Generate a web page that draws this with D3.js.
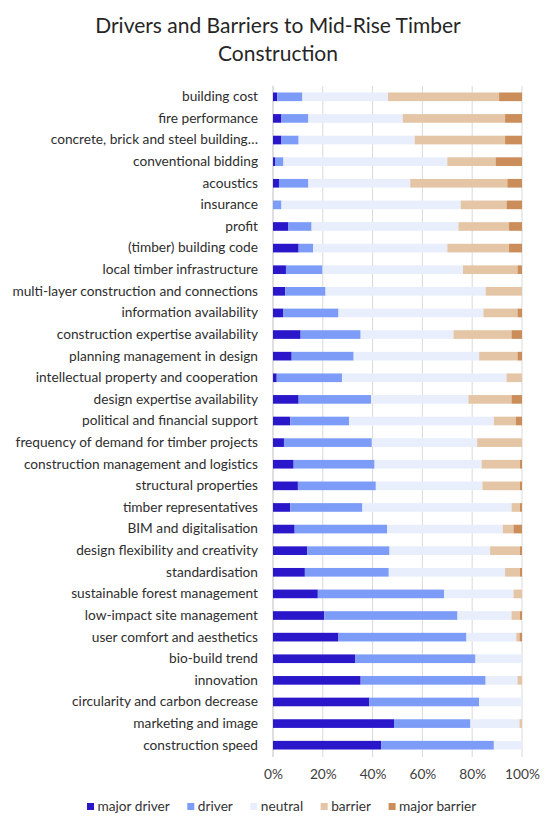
<!DOCTYPE html>
<html><head><meta charset="utf-8">
<script src="https://cdn.jsdelivr.net/npm/d3@7"></script>
<style>body{margin:0;background:#fff;} svg{display:block;font-family:Lato, "Noto Sans", sans-serif;}</style>
</head><body><div id="chart"></div>
<script>
const categories = ["building cost","fire performance","concrete, brick and steel building…","conventional bidding","acoustics","insurance","profit","(timber) building code","local timber infrastructure","multi-layer construction and connections","information availability","construction expertise availability","planning management in design","intellectual property and cooperation","design expertise availability","political and financial support","frequency of demand for timber projects","construction management and logistics","structural properties","timber representatives","BIM and digitalisation","design flexibility and creativity","standardisation","sustainable forest management","low-impact site management","user comfort and aesthetics","bio-build trend","innovation","circularity and carbon decrease","marketing and image","construction speed"];
const majorDriver = [1.7,3.4,3.4,0.8,2.4,0,6.2,10.3,5.2,4.9,4.2,11.1,7.5,1.5,10.3,6.9,4.4,8.3,10.0,6.9,8.7,13.7,12.8,18.0,20.6,26.3,33.1,35.2,38.7,48.6,43.4];
const driver = [10.1,10.8,6.9,3.4,11.8,3.4,9.3,5.8,14.7,16.2,22.1,24.1,24.9,26.2,29.1,23.7,35.3,32.5,31.3,29.0,37.1,33.1,33.7,50.7,53.5,51.4,48.2,50.2,44.1,30.7,45.3];
const neutral = [34.4,37.9,46.6,65.8,40.9,72.0,59.0,53.9,56.4,64.3,58.2,37.3,50.4,66.1,39.1,58.1,42.3,43.0,42.8,59.9,46.5,40.4,46.7,27.9,21.7,20.0,18.7,12.8,17.2,19.7,11.3];
const barrier = [44.6,41.1,36.3,19.4,39.0,18.4,20.3,24.8,21.9,14.6,13.7,23.3,15.4,6.2,17.3,8.8,18.0,15.4,15.1,3.4,4.3,12.0,6.0,3.4,3.4,1.3,0,1.8,0,1.0,0];
const majorBarrier = [9.2,6.8,6.8,10.6,5.9,6.2,5.2,5.2,1.8,0,1.8,4.2,1.8,0,4.2,2.5,0,0.8,0.8,0.8,3.4,0.8,0.8,0,0.8,1.0,0,0,0,0,0];
const seriesNames = ["major driver","driver","neutral","barrier","major barrier"];
const seriesColors = ["#2a17c9","#7c9cf7","#e8eefc","#e4c5a5","#cb8d59"];
const tickValues = [0,0.2,0.4,0.6,0.8,1];
const titleLines = ["Drivers and Barriers to Mid-Rise Timber","Construction"];

const W = 550, H = 827;
const svg = d3.select("#chart").append("svg").attr("width", W).attr("height", H);

const rows = categories.map((c, i) => {
  const vals = [majorDriver[i], driver[i], neutral[i], barrier[i], majorBarrier[i]];
  const tot = d3.sum(vals);
  const o = {cat: c};
  seriesNames.forEach((s, j) => o[s] = vals[j] / tot);
  return o;
});

const x = d3.scaleLinear().domain([0, 1]).range([273, 522]);
const y = d3.scaleBand().domain(categories).range([86, 756]).paddingInner(0.6).paddingOuter(0.3);

svg.append("g").selectAll("text").data(titleLines).join("text")
  .attr("x", 278).attr("y", (d, i) => 33 + i * 28).attr("text-anchor", "middle")
  .attr("font-size", 21).attr("fill", "#262626").text(d => d);

// gridlines
svg.append("g").selectAll("line").data(tickValues).join("line")
  .attr("x1", d => x(d)).attr("x2", d => x(d)).attr("y1", 86).attr("y2", 757)
  .attr("stroke", d => d === 0 ? "#bfbfbf" : "#d9d9d9").attr("stroke-width", 1);

const stack = d3.stack().keys(seriesNames)(rows);
svg.append("g").selectAll("g").data(stack).join("g")
  .attr("fill", (d, i) => seriesColors[i])
  .selectAll("rect").data(d => d).join("rect")
  .attr("x", d => x(d[0])).attr("width", d => Math.max(0, x(d[1]) - x(d[0])))
  .attr("y", d => y(d.data.cat)).attr("height", y.bandwidth());

// y labels
const yAxis = svg.append("g").attr("transform", "translate(273,0)")
  .call(d3.axisLeft(y).tickSize(0).tickPadding(15));
yAxis.select(".domain").remove();
yAxis.selectAll("text").attr("font-size", 13.7).attr("fill", "#2e2e2e").attr("font-family", "Lato, sans-serif");

// x axis
const xAxis = svg.append("g").attr("transform", "translate(0,757)")
  .call(d3.axisBottom(x).tickValues(tickValues).tickFormat(d3.format(".0%")).tickSize(0).tickPadding(12));
xAxis.select(".domain").remove();
xAxis.selectAll("text").attr("font-size", 13.7).attr("fill", "#404040").attr("font-family", "Lato, sans-serif");

// legend
const leg = svg.append("g").attr("font-size", 13.7).attr("fill", "#333");
let lx = 87;
seriesNames.forEach((s, i) => {
  leg.append("rect").attr("x", lx).attr("y", 803).attr("width", 7).attr("height", 7).attr("fill", seriesColors[i]);
  const t = leg.append("text").attr("x", lx + 10.5).attr("y", 811).text(s);
  lx += 10.5 + t.node().getComputedTextLength() + 17.5;
});
</script></body></html>
